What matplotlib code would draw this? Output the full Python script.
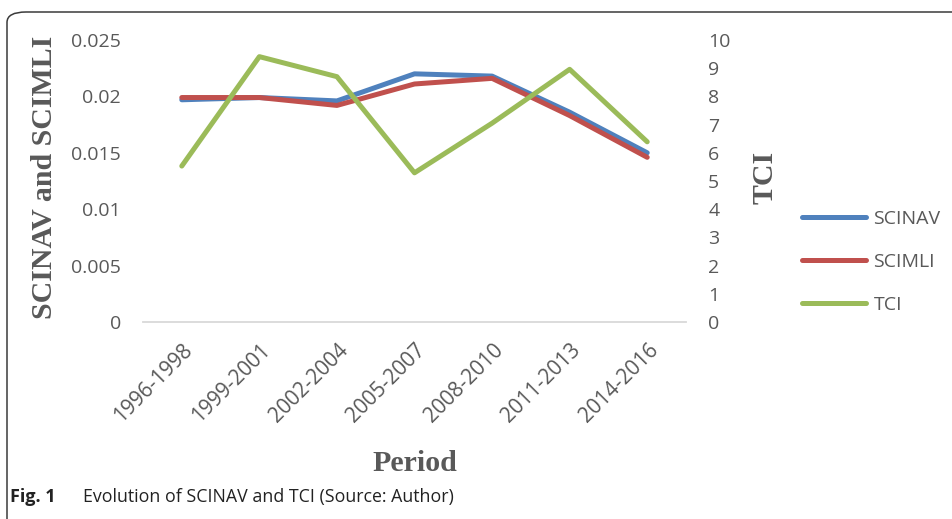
import matplotlib
matplotlib.use("Agg")
import matplotlib.pyplot as plt
from matplotlib.patches import FancyBboxPatch
from matplotlib.transforms import ScaledTranslation

periods = ["1996-1998", "1999-2001", "2002-2004", "2005-2007",
           "2008-2010", "2011-2013", "2014-2016"]
scinav = [0.0197, 0.0199, 0.0196, 0.0220, 0.0218, 0.0186, 0.0150]
scimli = [0.0199, 0.0199, 0.0192, 0.0211, 0.0216, 0.0183, 0.0146]
tci = [5.53, 9.41, 8.70, 5.29, 7.05, 8.96, 6.39]

left_ticks = [0, 0.005, 0.01, 0.015, 0.02, 0.025]
left_ticklabels = ["0", "0.005", "0.01", "0.015", "0.02", "0.025"]
right_ticks = list(range(0, 11))

BLUE = "#4F81BD"
RED = "#C0504D"
GREEN = "#9BBB59"
GRAY = "#595959"
TICKFONT = "Open Sans"
SERIF = "Liberation Serif"

W, H = 953, 519
fig = plt.figure(figsize=(W / 100, H / 100), dpi=100)

# outer rounded frame
frame = FancyBboxPatch((7 / W, -0.2), 1.2, 1 - 12 / H + 0.2,
                       boxstyle="round,pad=0,rounding_size=0.02",
                       transform=fig.transFigure, fill=False,
                       edgecolor="#3a3a3a", linewidth=1.1, clip_on=False)
fig.patches.append(frame)

ax = fig.add_axes([143 / W, 1 - 322 / H, 543 / W, 282 / H])
ax2 = ax.twinx()

x = list(range(len(periods)))
lw = 3.6
l1, = ax.plot(x, scinav, color=BLUE, lw=lw, solid_capstyle="round", solid_joinstyle="round", label="SCINAV", zorder=3)
l2, = ax.plot(x, scimli, color=RED, lw=lw, solid_capstyle="round", solid_joinstyle="round", label="SCIMLI", zorder=4)
l3, = ax2.plot(x, tci, color=GREEN, lw=lw, solid_capstyle="round", solid_joinstyle="round", label="TCI", zorder=5)

ax.set_xlim(-0.5, len(periods) - 0.5)
ax.set_ylim(0, 0.025)
ax2.set_ylim(0, 10)

for a in (ax, ax2):
    for s in a.spines.values():
        s.set_visible(False)
ax.spines["bottom"].set_visible(True)
ax.spines["bottom"].set_color("#D9D9D9")
ax.spines["bottom"].set_linewidth(1.3)

ax.set_yticks(left_ticks)
ax.set_yticklabels(left_ticklabels, fontsize=14, color=GRAY, family=TICKFONT)
ax.tick_params(axis="y", length=0, pad=16)
ax2.set_yticks(right_ticks)
ax2.set_yticklabels([str(t) for t in right_ticks], fontsize=14, color=GRAY, family=TICKFONT)
ax2.tick_params(axis="y", length=0, pad=16)

ax.set_xticks(x)
ax.set_xticklabels(periods, fontsize=15, color=GRAY, family=TICKFONT,
                   rotation=45, ha="right", va="center", rotation_mode="anchor")
ax.tick_params(axis="x", length=0, pad=18)
offset = ScaledTranslation(8 / 100, 0, fig.dpi_scale_trans)
for lbl in ax.get_xticklabels():
    lbl.set_transform(lbl.get_transform() + offset)

ax.set_ylabel("SCINAV and SCIMLI", fontsize=21.5, fontweight="bold", color=GRAY, family=SERIF)
ax.yaxis.set_label_coords(-0.156, 0.514)
ax2.set_ylabel("TCI", fontsize=21.5, fontweight="bold", color=GRAY, family=SERIF)
ax2.yaxis.set_label_coords(1.120, 0.514)
ax.set_xlabel("Period", fontsize=21.5, fontweight="bold", color=GRAY, family=SERIF)
ax.xaxis.set_label_coords(0.501, -0.454)

leg = fig.legend(handles=[l1, l2, l3], loc="center left",
                 bbox_to_anchor=(802 / W, 1 - 262 / H), frameon=False,
                 prop={"family": TICKFONT, "size": 14},
                 handlelength=3.3, handletextpad=0.38, labelspacing=1.3,
                 borderpad=0, borderaxespad=0)
for t in leg.get_texts():
    t.set_color(GRAY)

fig.text(10 / W, 1 - 497 / H, "Fig. 1", fontsize=13, fontweight="bold",
         family=TICKFONT, color="#222222", va="center")
fig.text(83 / W, 1 - 497 / H, "Evolution of SCINAV and TCI (Source: Author)",
         fontsize=12.8, family=TICKFONT, color="#222222", va="center")

fig.savefig("out.png", dpi=100)
